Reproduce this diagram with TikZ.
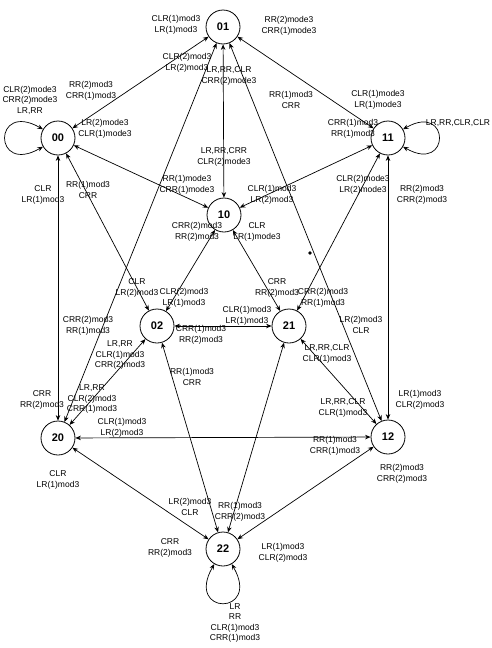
\documentclass[tikz,border=0pt]{standalone}
\usepackage{fontspec}
\setmainfont{Liberation Sans}
\usetikzlibrary{arrows.meta}

\begin{document}
\begin{tikzpicture}[x=1pt,y=1pt,
          state/.style={circle,draw,line width=.8pt,minimum size=34pt,inner sep=0pt,
                        font=\bfseries\fontsize{11}{13}\selectfont},
          link/.style={<->,>={Stealth[length=5.5pt,width=4.5pt]},line width=.7pt},
          cond/.style={font=\fontsize{8.5}{10.5}\selectfont,align=center,inner sep=0pt}]
        \useasboundingbox (0,0) rectangle (491,-648);
        \foreach \s/\x/\y in {01/223/-27,00/58/-138,11/388/-138,10/224/-215,
            02/157/-326,21/289/-326,20/58/-438,12/388/-437,22/223/-549}
          \node[state] (n\s) at (\x,\y) {\s};
        % every transition is drawn both ways, one condition block at each end
        \foreach \a/\b in {01/00,01/11,01/10,01/20,01/12,00/10,00/02,00/20,
            11/10,11/21,11/12,10/02,10/21,02/21,02/20,02/22,21/12,21/22,
            20/12,20/22,12/22}
          \draw[link] (n\a) -- (n\b);
        \draw[link] (n00) to[out=150,in=210,min distance=58pt] (n00);
        \draw[link] (n11) to[out=30,in=-30,min distance=55pt] (n11);
        \draw[link] (n22) to[out=-60,in=-120,min distance=60pt] (n22);
        \foreach \l/\x/\y/\t in {%
            01a/176/-25/{CLR(1)mod3\\LR(1)mod3},
            01b/187/-63/{CLR(2)mod3\\LR(2)mod3},
            01c/229/-76/{LR,RR,CLR\\CRR(2)mode3},
            01d/289/-26/{RR(2)mode3\\CRR(1)mode3},
            01e/291/-100/{RR(1)mod3\\CRR},
            00a/91/-91/{RR(2)mod3\\CRR(1)mod3},
            00b/30/-100/{CLR(2)mode3\\CRR(2)mode3\\LR,RR},
            00c/105/-129/{LR(2)mode3\\CLR(1)mode3},
            00d/43/-195/{CLR\\LR(1)mod3},
            00e/88/-190/{RR(1)mod3\\CRR},
            11a/378/-100/{CLR(1)mode3\\LR(1)mode3},
            11b/353/-129/{CRR(1)mod3\\RR(1)mod3},
            11c/458/-123/{LR,RR,CLR,CLR},
            11d/363/-185/{CLR(2)mode3\\LR(2)mode3},
            11e/422/-195/{RR(2)mod3\\CRR(2)mod3},
            10a/224/-157/{LR,RR,CRR\\CLR(2)mode3},
            10b/187/-185/{RR(1)mode3\\CRR(1)mode3},
            10c/272/-195/{CLR(1)mod3\\LR(2)mod3},
            10d/197/-232/{CRR(2)mod3\\RR(2)mod3},
            10e/257/-232/{CLR\\LR(1)mode3},
            02a/137/-288/{CLR\\LR(2)mod3},
            02b/184/-298/{CLR(2)mod3\\LR(1)mod3},
            02c/201/-335/{CRR(1)mod3\\RR(2)mod3},
            02d/120/-355/{LR,RR\\CLR(1)mod3\\CRR(2)mod3},
            02e/192/-377/{RR(1)mod3\\CRR},
            21a/277/-288/{CRR\\RR(2)mod3},
            21b/323/-298/{CRR(2)mod3\\RR(1)mod3},
            21c/247/-316/{CLR(1)mod3\\LR(1)mod3},
            21d/327/-354/{LR,RR,CLR\\CLR(1)mod3},
            20a/88/-326/{CRR(2)mod3\\RR(1)mod3},
            20b/92/-399/{LR,RR\\CLR(2)mod3\\CRR(1)mod3},
            20c/42/-400/{CRR\\RR(2)mod3},
            20d/122/-428/{CLR(1)mod3\\LR(2)mod3},
            20e/58/-480/{CLR\\LR(1)mod3},
            12a/361/-325/{LR(2)mod3\\CLR},
            12b/343/-408/{LR,RR,CLR\\CLR(1)mod3},
            12c/420/-400/{LR(1)mod3\\CLR(2)mod3},
            12d/335/-446/{RR(1)mod3\\CRR(1)mod3},
            12e/402/-474/{RR(2)mod3\\CRR(2)mod3},
            22a/190/-507/{LR(2)mod3\\CLR},
            22b/240/-512/{RR(1)mod3\\CRR(2)mod3},
            22c/170/-548/{CRR\\RR(2)mod3},
            22d/283/-553/{LR(1)mod3\\CLR(2)mod3},
            22e/235/-623/{LR\\RR\\CLR(1)mod3\\CRR(1)mod3}}
          \node[cond] (l\l) at (\x,\y) {\t};
        \fill (310,-253) circle (1.8pt);
      \end{tikzpicture}
\end{document}
